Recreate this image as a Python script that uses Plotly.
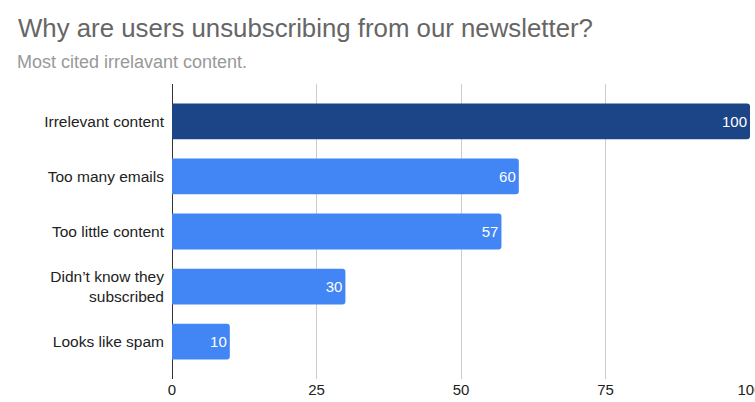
import plotly.graph_objects as go

# Survey responses: reasons readers gave for unsubscribing
reasons = [
    "Irrelevant content",
    "Too many emails",
    "Too little content",
    "Didn’t know they<br>subscribed",
    "Looks like spam",
]
counts = [100, 60, 57, 30, 10]
highlight = "Irrelevant content"

x_ticks = [0, 25, 50, 75, 100]

bar_colors = ["#1c4587" if r == highlight else "#4285f4" for r in reasons]

FONT = "Liberation Sans, Arial, sans-serif"
PLOT_W = 755 - 172 - 5

fig = go.Figure(
    go.Bar(
        x=counts,
        y=reasons,
        orientation="h",
        marker=dict(color=bar_colors, cornerradius=3, line=dict(width=0)),
        width=0.65,
        text=[str(c) for c in counts],
        textposition="inside",
        insidetextanchor="end",
        textfont=dict(color="white", size=15, family=FONT),
        cliponaxis=False,
        hoverinfo="x+y",
    )
)

fig.update_layout(
    width=755,
    height=402,
    margin=dict(l=172, r=5, t=84, b=23, autoexpand=False),
    paper_bgcolor="white",
    plot_bgcolor="white",
    font=dict(family=FONT, color="#222222", size=15),
    showlegend=False,
    title=dict(
        text="Why are users unsubscribing from our newsletter?",
        font=dict(size=25.8, color="#666666", family=FONT),
        x=18 / 755,
        xanchor="left",
        xref="container",
        yref="container",
        y=1 - 19 / 402,
        yanchor="top",
        pad=dict(t=0, b=0, l=0, r=0),
    ),
    annotations=[
        dict(
            text="Most cited irrelavant content.",
            xref="paper",
            yref="paper",
            x=-157 / PLOT_W,
            y=(379 - 50) / 295,
            xanchor="left",
            yanchor="top",
            showarrow=False,
            font=dict(size=18, color="#999999", family=FONT),
        )
    ],
)

fig.update_xaxes(
    range=[0, 100],
    tickvals=x_ticks,
    ticktext=[str(t) for t in x_ticks],
    ticklabeloverflow="allow",
    automargin=False,
    showgrid=True,
    gridcolor="#cccccc",
    gridwidth=1,
    zeroline=True,
    zerolinecolor="#333333",
    zerolinewidth=1,
    showline=False,
    tickfont=dict(size=15, color="#222222"),
    fixedrange=True,
)

fig.update_yaxes(
    categoryorder="array",
    categoryarray=reasons[::-1],
    range=[-0.68, 4.68],
    automargin=False,
    showgrid=False,
    zeroline=False,
    showline=False,
    ticks="",
    ticklabelstandoff=7,
    tickfont=dict(size=15.5, color="#222222"),
    fixedrange=True,
)

fig.write_html("out.html")
